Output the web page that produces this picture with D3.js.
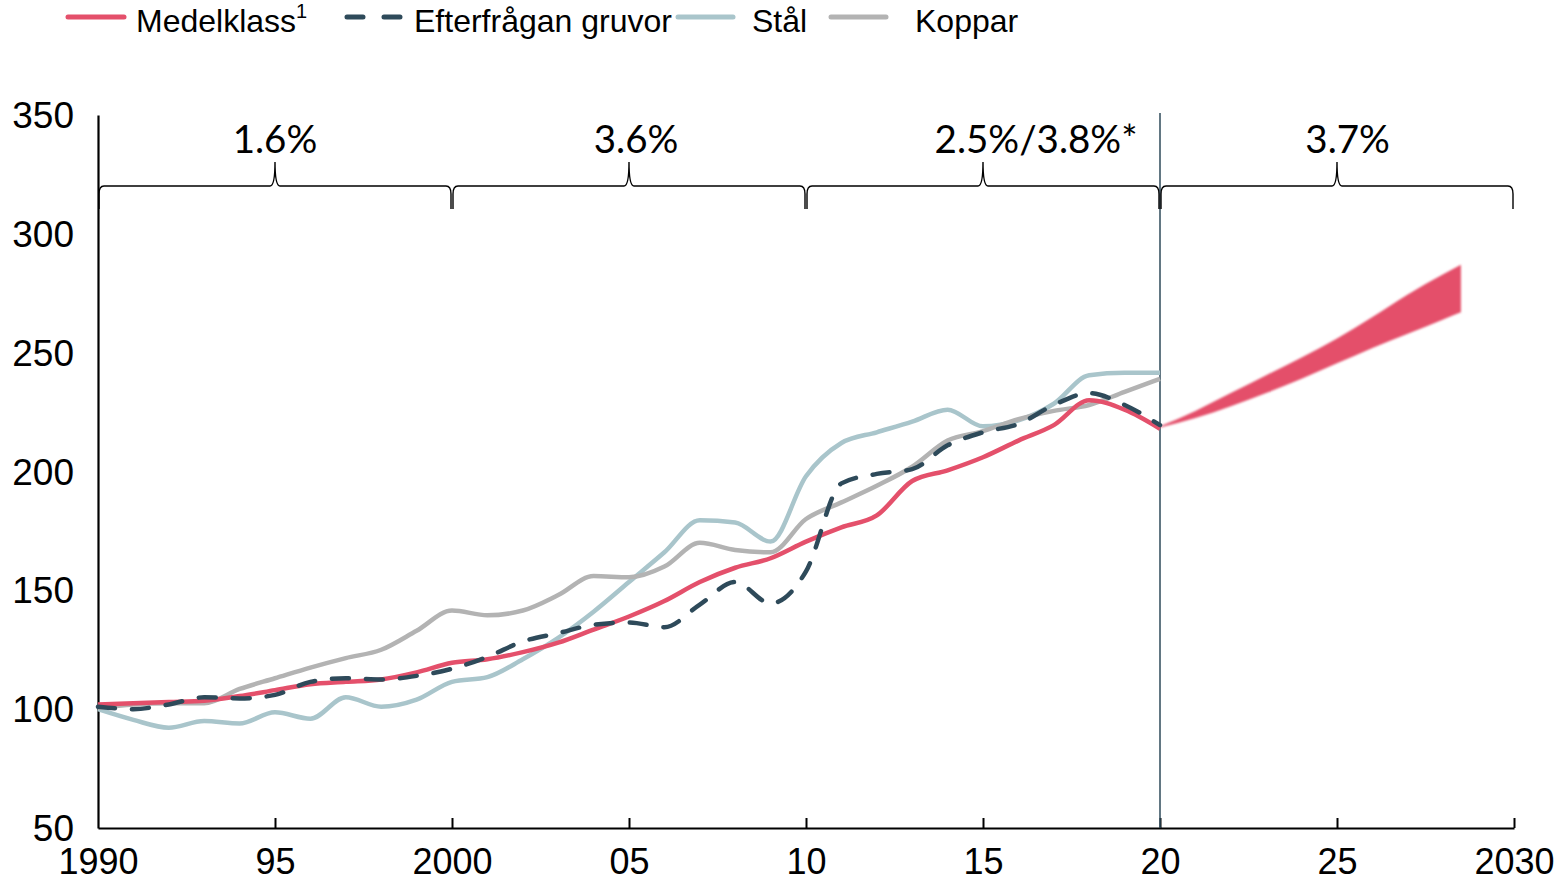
<!DOCTYPE html>
<html><head><meta charset="utf-8">
<script src="https://cdn.jsdelivr.net/npm/d3@7"></script>
<style>body{margin:0;background:#fff}svg{display:block}</style>
</head><body>
<svg id="c" width="1560" height="882"></svg>
<script>
const years = d3.range(1990, 2021);
const medelklass = [102,102.5,103,103.5,105.5,108,110.5,111.5,112.5,115.5,119.5,121,124,128,133.5,139,145.5,153.5,159.5,163.5,170.5,176.5,181.5,196,200.5,206,213,219.5,230,226,218];
const gruvor = [101,100,102,105,104.5,106,111.5,113,112.5,114,117,122,128.5,132,135.5,136.5,134.5,144,153.5,144.5,158,195,199,201,211,216.5,220,228,233,228,219.5];
const stal = [100,95.5,92.2,95,94,98.7,96,105,101,104,111.5,113.5,121,130,141,153.5,166,179.5,178.5,170.5,198,212,216.5,221,226,219,221.5,228.5,240.5,241.5,241.5];
const koppar = [100.5,102,102.5,102.5,108.5,113,117.5,121.5,125,133,141.5,139.5,141.5,148,156,155.5,160,170,167,166,180,187,194,202,213,217,222,225.5,228,233.5,239];
const fanYears = [2020,2021,2022,2023,2024,2025,2026,2027,2028,2028.5];
const fanHigh = [219,225.5,233,240.5,248,256,265,274.5,283,287];
const fanLow  = [218.5,222.5,227.5,233,239,245.5,252,258,264,267];
const yTicks = [50,100,150,200,250,300,350];
const xTicks = [1990,1995,2000,2005,2010,2015,2020,2025,2030];
const xTickLabels = ["1990","95","2000","05","10","15","20","25","2030"];
const periods = [[1990,2000],[2000,2010],[2010,2020],[2020,2030]];
const periodLabels = ["1.6%","3.6%","2.5%/3.8%*","3.7%"];
const periodLabelYears = [1995,2005.2,2016.5,2025.3];
const legendNames = ["Medelklass","Efterfrågan gruvor","Stål","Koppar"];

const svg = d3.select("#c");
const x = d3.scaleLinear().domain([1990,2030]).range([98,1514]);
const y = d3.scaleLinear().domain([50,350]).range([828,115]);
const RED="#e4506b", DARK="#2e4a5a", BLUE="#a9c5cb", GREY="#b3b3b3";

const defs = svg.append("defs");
defs.append("filter").attr("id","soft").append("feGaussianBlur").attr("stdDeviation",1.1);

// axes
const xAxis = d3.axisBottom(x).tickValues(xTicks).tickFormat((d,i)=>xTickLabels[i]).tickSizeInner(-10).tickSizeOuter(0).tickPadding(20);
const gx = svg.append("g").attr("transform",`translate(0,${y(50)})`).call(xAxis);
gx.select(".domain").attr("stroke","#000").attr("stroke-width",2.2);
gx.selectAll(".tick line").attr("stroke","#000").attr("stroke-width",2);
gx.selectAll(".tick").filter(d=>d===1990).select("line").remove();
gx.selectAll("text").attr("font-family","Liberation Sans, Arial, sans-serif").attr("font-size",36).attr("fill","#000");

const yAxis = d3.axisLeft(y).tickValues(yTicks).tickSize(0).tickPadding(24);
const gy = svg.append("g").attr("transform",`translate(${x(1990)},0)`).call(yAxis);
gy.select(".domain").attr("stroke","#000").attr("stroke-width",2.2);
gy.selectAll("text").attr("font-family","Liberation Sans, Arial, sans-serif").attr("font-size",37).attr("fill","#000").attr("dy","0.34em");

// vertical 2020 line
svg.append("line").attr("x1",x(2020)).attr("x2",x(2020)).attr("y1",y(350)-2).attr("y2",y(50))
  .attr("stroke",DARK).attr("stroke-width",1.5);

// braces
const yb = 186, yTop = 162, yBot = 209, r = 5;
periods.forEach(([a,b],i)=>{
  const x0 = x(a)+1, x1 = x(b)-1, xm = (x(a)+x(b))/2;
  const p = `M${x0},${yBot} L${x0},${yb+8} Q${x0},${yb} ${x0+r},${yb} L${xm-r},${yb} Q${xm},${yb} ${xm},${yTop} Q${xm},${yb} ${xm+r},${yb} L${x1-r},${yb} Q${x1},${yb} ${x1},${yb+8} L${x1},${yBot}`;
  svg.append("path").attr("d",p).attr("fill","none").attr("stroke","#000").attr("stroke-width",1.4);
  svg.append("text").attr("x",x(periodLabelYears[i])).attr("y",153).attr("text-anchor","middle")
    .attr("font-family","Lato, Open Sans, sans-serif").attr("font-size",38.5).attr("fill","#000").text(periodLabels[i]);
});

// fan
const area = d3.area().x((d,i)=>x(fanYears[i])).y0((d,i)=>y(fanLow[i])).y1((d,i)=>y(fanHigh[i])).curve(d3.curveMonotoneX);
svg.append("path").datum(fanYears).attr("d",area).attr("fill",RED).attr("filter","url(#soft)");

// lines
const line = d3.line().x((d,i)=>x(years[i])).y(d=>y(d)).curve(d3.curveMonotoneX);
const series = [
  {v:stal, c:BLUE, w:4.5, dash:null},
  {v:koppar, c:GREY, w:4.5, dash:null},
  {v:medelklass, c:RED, w:4.5, dash:null},
  {v:gruvor, c:DARK, w:4.5, dash:"17,17"}
];
series.forEach(s=>{
  svg.append("path").datum(s.v).attr("d",line).attr("fill","none").attr("stroke",s.c)
    .attr("stroke-width",s.w).attr("stroke-linecap",s.dash?"round":"butt").attr("stroke-linejoin","round")
    .attr("stroke-dasharray",s.dash);
});

// legend
const lg = svg.append("g").attr("font-family","Liberation Sans, Arial, sans-serif").attr("font-size",32);
const legendItems = [
  {x0:68,x1:124,tx:136,c:RED,dash:null},
  {x0:347,x1:400,tx:414,c:DARK,dash:"16,21"},
  {x0:678,x1:733,tx:752,c:BLUE,dash:null},
  {x0:831,x1:886,tx:915,c:GREY,dash:null}
];
legendItems.forEach((it,i)=>{
  lg.append("line").attr("x1",it.x0).attr("x2",it.x1).attr("y1",17).attr("y2",17).attr("stroke",it.c)
    .attr("stroke-width",5).attr("stroke-linecap","round").attr("stroke-dasharray",it.dash);
  const t = lg.append("text").attr("x",it.tx).attr("y",32).attr("fill","#000").text(legendNames[i]);
  if(i===0) t.append("tspan").attr("font-size",20).attr("dy",-14).text("1");
});
</script>
</body></html>
